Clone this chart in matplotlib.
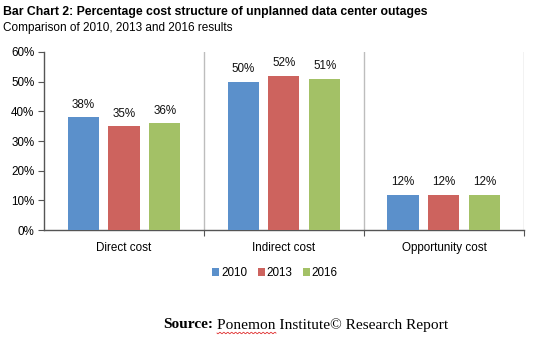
import matplotlib
matplotlib.use('Agg')
import matplotlib.pyplot as plt
import numpy as np

plt.rcParams['font.family'] = ['Liberation Sans', 'DejaVu Sans']

categories = ['Direct cost', 'Indirect cost', 'Opportunity cost']
years = ['2010', '2013', '2016']
values = {
    '2010': [38, 50, 12],
    '2013': [35, 52, 12],
    '2016': [36, 51, 12],
}
yticks = [0, 10, 20, 30, 40, 50, 60]
colors = ['#5B90CB', '#CD635E', '#A3C166']

fig = plt.figure(figsize=(5.33, 3.42), dpi=100)
ax = fig.add_axes([0.0826, 0.327, 0.9004, 0.521])

x = np.arange(len(categories))
step, width = 0.256, 0.194
for i, (yr, col) in enumerate(zip(years, colors)):
    pos = x + (i - 1) * step
    bars = ax.bar(pos, values[yr], width=width, color=col, label=yr, zorder=3)
    for b, v in zip(bars, values[yr]):
        ax.text(b.get_x() + b.get_width() / 2, v + 2.2, f'{v}%',
                ha='center', va='bottom', fontsize=8.4, color='#111111')

ax.set_xlim(-0.5, 2.5)
ax.set_ylim(0, 60)
ax.set_yticks(yticks)
ax.set_yticklabels([f'{t}%' for t in yticks], fontsize=8.4)

# group separators with ticks below the axis
for sep in [0.5, 1.5, 2.5]:
    ax.axvline(sep, color='#BDBDBD', linewidth=1.0, zorder=1)
ax.set_xticks([0.5, 1.5, 2.5])
ax.set_xticklabels([])
ax.tick_params(axis='x', direction='out', length=4, color='#555555')
ax.tick_params(axis='y', direction='out', length=4, color='#555555', pad=3)
for i, c in enumerate(categories):
    ax.text(i, -4.0, c, ha='center', va='top', fontsize=8.4)

for s in ['top', 'right']:
    ax.spines[s].set_visible(False)
for s in ['left', 'bottom']:
    ax.spines[s].set_color('#555555')
    ax.spines[s].set_linewidth(1.0)

fig.legend(loc='center', bbox_to_anchor=(275 / 533, 1 - 273 / 342), ncol=3,
           frameon=False, fontsize=8.4, handlelength=0.6, handleheight=0.6,
           handletextpad=0.15, columnspacing=0.9)

fig.text(3 / 533, 1 - 12 / 342, 'Bar Chart 2: Percentage cost structure of unplanned data center outages',
         fontsize=8.8, fontweight='bold', va='center', ha='left')
fig.text(3 / 533, 1 - 28 / 342, 'Comparison of 2010, 2013 and 2016 results',
         fontsize=8.5, va='center', ha='left')

# source line: bold label followed by the plain text
src_y = 1 - 325 / 342
t1 = fig.text(163 / 533, src_y, 'Source:', fontsize=11.1, fontweight='bold',
              family='Liberation Serif', va='center', ha='left')
fig.canvas.draw()
bb = t1.get_window_extent()
x2 = bb.x1 + 4
fig.text(x2 / 533, src_y, 'Ponemon Institute\u00a9 Research Report', fontsize=11.1,
         family='Liberation Serif', va='center', ha='left')
wx = np.linspace(x2, x2 + 59, 70)
wy = 333 + 0.8 * np.sin((wx - x2) * 1.6)
fig.add_artist(plt.Line2D(wx / 533, 1 - wy / 342, color='#E03030', linewidth=0.6))

fig.savefig('out.png', dpi=100)
